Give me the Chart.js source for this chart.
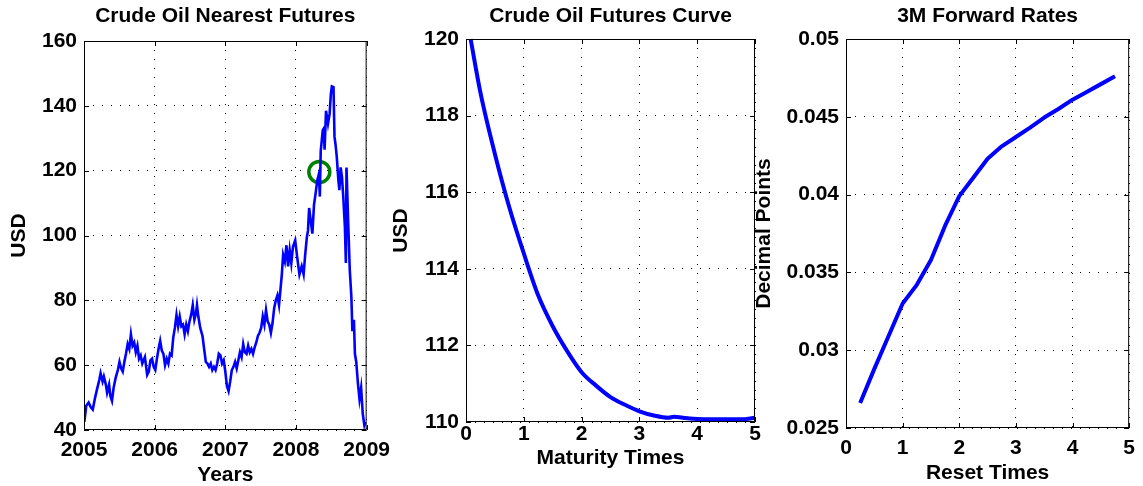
<!DOCTYPE html>
<html>
<head>
<meta charset="utf-8">
<script src="https://cdn.jsdelivr.net/npm/chart.js@4.4.0/dist/chart.umd.min.js"></script>
<style>
body { margin: 0; background: #fff; width: 1143px; height: 486px; overflow: hidden; position: relative; }
canvas { position: absolute; top: 0; }
</style>
</head>
<body>
<canvas id="c1" width="398" height="486" style="left:0px"></canvas>
<canvas id="c2" width="395" height="486" style="left:375px"></canvas>
<canvas id="c3" width="398" height="486" style="left:745px"></canvas>
<script>
// crude oil nearest futures (decimal year, USD)
var oilYears = [
  2005.005, 2005.032, 2005.065, 2005.097, 2005.124, 2005.157, 2005.189, 2005.217, 2005.235, 2005.263,
  2005.281, 2005.309, 2005.327, 2005.355, 2005.373, 2005.396, 2005.419, 2005.447, 2005.479, 2005.502,
  2005.525, 2005.548, 2005.571, 2005.594, 2005.618, 2005.641, 2005.664, 2005.687, 2005.710, 2005.733,
  2005.756, 2005.779, 2005.802, 2005.825, 2005.862, 2005.894, 2005.917, 2005.940, 2005.963, 2005.986,
  2006.009, 2006.032, 2006.055, 2006.078, 2006.101, 2006.124, 2006.147, 2006.171, 2006.194, 2006.217,
  2006.240, 2006.263, 2006.286, 2006.309, 2006.332, 2006.355, 2006.378, 2006.401, 2006.424, 2006.447,
  2006.470, 2006.493, 2006.516, 2006.539, 2006.562, 2006.585, 2006.599, 2006.618, 2006.645, 2006.677,
  2006.700, 2006.724, 2006.747, 2006.770, 2006.793, 2006.816, 2006.839, 2006.862, 2006.885, 2006.908,
  2006.931, 2006.954, 2006.977, 2007.000, 2007.023, 2007.046, 2007.069, 2007.092, 2007.115, 2007.138,
  2007.161, 2007.184, 2007.207, 2007.230, 2007.253, 2007.276, 2007.300, 2007.323, 2007.346, 2007.369,
  2007.392, 2007.415, 2007.438, 2007.461, 2007.484, 2007.507, 2007.530, 2007.553, 2007.576, 2007.599,
  2007.622, 2007.645, 2007.668, 2007.691, 2007.714, 2007.737, 2007.760, 2007.783, 2007.800, 2007.818,
  2007.842, 2007.865, 2007.888, 2007.911, 2007.934, 2007.957, 2007.989, 2008.016, 2008.049, 2008.081,
  2008.108, 2008.130, 2008.154, 2008.170, 2008.186, 2008.209, 2008.232, 2008.255, 2008.278, 2008.301,
  2008.324, 2008.338, 2008.350, 2008.379, 2008.393, 2008.405, 2008.425, 2008.453, 2008.476, 2008.494,
  2008.508, 2008.531, 2008.545, 2008.560, 2008.577, 2008.600, 2008.614, 2008.632, 2008.651, 2008.669,
  2008.692, 2008.706, 2008.715, 2008.738, 2008.761, 2008.784, 2008.798, 2008.820, 2008.834, 2008.853,
  2008.876, 2008.899, 2008.922, 2008.945, 2008.968, 2008.982
];
var oilPrices = [
  42.5, 47.5, 48.5, 47.0, 46.3, 50.0, 53.0, 55.5, 57.5, 55.0,
  56.5, 54.0, 51.5, 54.0, 50.5, 49.0, 53.0, 56.0, 58.5, 61.0,
  59.0, 58.0, 61.0, 63.5, 66.5, 65.0, 69.5, 66.0, 67.0, 64.0,
  66.0, 62.0, 63.0, 60.5, 62.5, 57.0, 58.0, 61.5, 62.0, 59.5,
  58.5, 62.0, 65.0, 67.5, 64.5, 63.5, 60.0, 62.0, 60.5, 63.5,
  63.0, 68.5, 71.5, 75.5, 72.0, 75.0, 72.0, 72.5, 69.5, 72.5,
  70.5, 73.5, 75.5, 78.5, 74.0, 76.0, 78.5, 75.0, 71.5, 69.0,
  65.0, 61.0, 60.5, 59.5, 60.5, 58.5, 59.5, 58.5, 60.5, 63.5,
  63.0, 60.5, 61.5, 58.0, 53.5, 52.0, 55.0, 58.5, 59.5, 61.0,
  59.0, 61.5, 64.0, 62.5, 66.5, 64.0, 63.5, 66.0, 64.0, 65.0,
  63.5, 65.5, 67.0, 69.0, 70.0, 71.5, 75.0, 72.5, 77.0, 73.5,
  72.5, 70.0, 73.0, 77.5, 80.0, 81.5, 78.5, 84.0, 88.0, 94.0,
  92.0, 97.0, 90.5, 95.5, 91.5, 96.5, 98.5, 93.5, 88.0, 90.5,
  88.0, 94.0, 99.5, 101.5, 108.5, 104.5, 100.6, 109.5, 113.0, 117.0,
  119.0, 112.0, 126.0, 132.5, 133.0, 126.5, 138.5, 134.5, 137.5, 143.8,
  146.0, 145.8, 130.5, 128.0, 124.3, 117.0, 114.0, 121.0, 118.0, 112.0,
  102.7, 91.5, 121.0, 104.5, 89.5, 81.0, 70.5, 74.0, 63.5, 61.0,
  54.5, 49.5, 53.0, 45.0, 41.5, 42.5
];
var markYear = [2008.33];
var markPrice = [119.6];

// futures curve
var maturityTimes = [0.08, 0.25, 0.5, 0.75, 1.0, 1.25, 1.5, 1.75, 2.0, 2.25, 2.5, 2.75, 3.0, 3.25, 3.5, 3.6, 3.75, 4.0, 4.25, 4.5, 4.75, 5.0];
var futuresPrices = [120.0, 118.6, 117.0, 115.6, 114.4, 113.3, 112.5, 111.85, 111.3, 110.95, 110.65, 110.45, 110.28, 110.17, 110.11, 110.14, 110.11, 110.08, 110.07, 110.07, 110.07, 110.11];

// 3M forward rates
var resetTimes = [0.25, 0.5, 0.75, 1.0, 1.25, 1.5, 1.75, 2.0, 2.25, 2.5, 2.75, 3.0, 3.25, 3.5, 3.75, 4.0, 4.25, 4.5, 4.75];
var forwardRates = [0.0266, 0.0288, 0.0309, 0.0330, 0.0342, 0.0358, 0.0380, 0.0399, 0.0411, 0.0423, 0.0431, 0.0437, 0.0443, 0.04495, 0.0455, 0.0461, 0.0466, 0.0471, 0.0476];

var titles = ['Crude Oil Nearest Futures', 'Crude Oil Futures Curve', '3M Forward Rates'];

Chart.defaults.font.family = '"Liberation Sans", Arial, Helvetica, sans-serif';
Chart.defaults.font.size = 21;
Chart.defaults.font.weight = 'bold';
Chart.defaults.color = '#000';

function pts(xs, ys) {
  return xs.map(function (x, i) { return { x: x, y: ys[i] }; });
}

// panel title + matlab style box with inward ticks
var panelPlugin = {
  id: 'panel',
  afterDraw: function (chart, args, opts) {
    var ctx = chart.ctx, a = chart.chartArea;
    var sx = chart.scales.x, sy = chart.scales.y;
    ctx.save();
    ctx.strokeStyle = '#000';
    ctx.lineWidth = 1;
    ctx.strokeRect(a.left + 0.5, a.top + 0.5, a.right - a.left - 1, a.bottom - a.top - 1);
    ctx.beginPath();
    sx.ticks.forEach(function (t) {
      var p = Math.round(sx.getPixelForValue(t.value)) + 0.5;
      ctx.moveTo(p, a.bottom); ctx.lineTo(p, a.bottom - 5);
      ctx.moveTo(p, a.top); ctx.lineTo(p, a.top + 5);
    });
    sy.ticks.forEach(function (t) {
      var p = Math.round(sy.getPixelForValue(t.value)) + 0.5;
      ctx.moveTo(a.left, p); ctx.lineTo(a.left + 5, p);
      ctx.moveTo(a.right, p); ctx.lineTo(a.right - 5, p);
    });
    ctx.stroke();
    ctx.font = 'bold 21px "Liberation Sans", Arial, sans-serif';
    ctx.fillStyle = '#000';
    ctx.textAlign = 'center';
    ctx.textBaseline = 'middle';
    ctx.fillText(opts.text, (a.left + a.right) / 2, 16);
    ctx.restore();
  }
};

function makeChart(id, cfg) {
  return new Chart(document.getElementById(id), {
    type: 'line',
    data: { datasets: cfg.datasets },
    options: {
      responsive: false,
      animation: false,
      events: [],
      layout: { padding: { top: cfg.top, right: cfg.right, left: 0, bottom: 0 } },
      plugins: { legend: { display: false }, tooltip: { enabled: false }, panel: { text: cfg.title } },
      scales: {
        x: {
          type: 'linear', min: cfg.xmin, max: cfg.xmax,
          ticks: { stepSize: 1, padding: cfg.xpad, maxRotation: 0, autoSkip: false, callback: function (v) { return String(v); } },
          grid: { drawTicks: false, color: '#000', lineWidth: 1 },
          border: { display: false, dash: [1, 8] },
          title: { display: true, text: cfg.xlabel, padding: { top: 0, bottom: cfg.xtitlePad } },
          afterFit: function (s) { s.height = cfg.xh; }
        },
        y: {
          min: cfg.ymin, max: cfg.ymax,
          ticks: { stepSize: cfg.ystep, padding: 7, callback: cfg.yfmt },
          grid: { drawTicks: false, color: '#000', lineWidth: 1 },
          border: { display: false, dash: [1, 8] },
          title: { display: true, text: cfg.ylabel, padding: { top: cfg.ytitlePad, bottom: 0 } },
          afterFit: function (s) { s.width = cfg.yw; }
        }
      }
    },
    plugins: [panelPlugin]
  });
}

makeChart('c1', {
  title: titles[0], top: 41, right: 24, xh: 56, yw: 84,
  xmin: 2005, xmax: 2009, ymin: 40, ymax: 160, ystep: 20,
  xpad: 8, xtitlePad: -1.5, ytitlePad: 7,
  xlabel: 'Years', ylabel: 'USD',
  yfmt: function (v) { return String(v); },
  datasets: [
    { data: pts(oilYears, oilPrices), borderColor: '#0000ff', borderWidth: 2.6, pointRadius: 0, tension: 0 },
    { data: pts(markYear, markPrice), showLine: false, pointRadius: 10.5, borderColor: '#008000', borderWidth: 3.5, backgroundColor: 'rgba(0,0,0,0)' }
  ]
});

makeChart('c2', {
  title: titles[1], top: 39, right: 15, xh: 64, yw: 91,
  xmin: 0, xmax: 5, ymin: 110, ymax: 120, ystep: 2,
  xpad: 0, xtitlePad: 15.5, ytitlePad: 14,
  xlabel: 'Maturity Times', ylabel: 'USD',
  yfmt: function (v) { return String(v); },
  datasets: [
    { data: pts(maturityTimes, futuresPrices), borderColor: '#0000ff', borderWidth: 4, pointRadius: 0, cubicInterpolationMode: 'monotone', clip: false }
  ]
});

makeChart('c3', {
  title: titles[2], top: 39, right: 7, xh: 58, yw: 101,
  xmin: 0, xmax: 5, ymin: 0.025, ymax: 0.05, ystep: 0.005,
  xpad: 8, xtitlePad: 0, ytitlePad: 7,
  xlabel: 'Reset Times', ylabel: 'Decimal Points',
  yfmt: function (v) { return String(Number(v.toFixed(4))); },
  datasets: [
    { data: pts(resetTimes, forwardRates), borderColor: '#0000ff', borderWidth: 4, pointRadius: 0, tension: 0, borderJoinStyle: 'round' }
  ]
});
</script>
</body>
</html>
